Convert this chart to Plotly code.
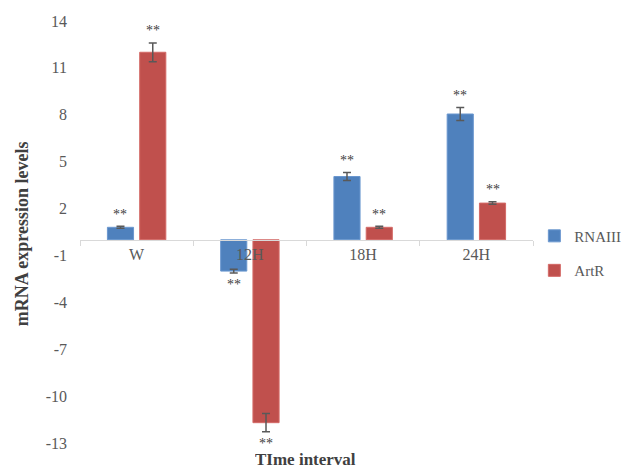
import plotly.graph_objects as go

categories = ["W", "12H", "18H", "24H"]
rnaiii = [0.8, -2.0, 4.05, 8.05]
rnaiii_err = [0.06, 0.12, 0.26, 0.42]
artr = [12.0, -11.7, 0.8, 2.35]
artr_err = [0.6, 0.58, 0.06, 0.08]
y_ticks = [14, 11, 8, 5, 2, -1, -4, -7, -10, -13]
y_min, y_max = -13, 14

blue = "#4F81BD"
red = "#C0504D"
grey = "#595959"
font_family = "Liberation Serif"

bargap = 0.43
bargroupgap = 0.19

fig = go.Figure()
fig.add_trace(go.Bar(
    name="RNAIII", x=categories, y=rnaiii, legendgroup="a",
    marker=dict(color=blue, line=dict(color="#6A97CF", width=1)),
    error_y=dict(type="data", array=rnaiii_err, color=grey, thickness=1.5, width=4),
))
fig.add_trace(go.Bar(
    name="ArtR", x=categories, y=artr, legendgroup="b",
    marker=dict(color=red, line=dict(color="#D46A67", width=1)),
    error_y=dict(type="data", array=artr_err, color=grey, thickness=1.5, width=4),
))

# significance markers
slot = (1 - bargap) / 2
offsets = [-slot / 2, slot / 2]
annotations = []
for series, errs, off in [(rnaiii, rnaiii_err, offsets[0]), (artr, artr_err, offsets[1])]:
    for i, (v, e) in enumerate(zip(series, errs)):
        sgn = 1 if v >= 0 else -1
        annotations.append(dict(
            x=i + off, y=v + sgn * e, xref="x", yref="y",
            text="**", showarrow=False, yshift=sgn * 12, borderpad=0,
            height=11,
            font=dict(family=font_family, size=14, color="#404040"),
        ))

annotations.append(dict(
    x=0.497, y=-0.039, xref="paper", yref="paper", text="<b>TIme interval</b>",
    showarrow=False, yanchor="middle", borderpad=0, height=14,
    font=dict(family=font_family, size=17, color="#404040"),
))
annotations.append(dict(
    x=-0.128, y=0.495, xref="paper", yref="paper", text="<b>mRNA expression levels</b>",
    showarrow=False, textangle=-90, xanchor="center", yanchor="middle",
    font=dict(family=font_family, size=18, color="#404040"),
))

fig.update_layout(
    width=637, height=467,
    margin=dict(l=72, r=112, t=13, b=32, autoexpand=False),
    paper_bgcolor="white", plot_bgcolor="white",
    barmode="group", bargap=bargap, bargroupgap=bargroupgap,
    showlegend=True,
    legend=dict(x=1.003, y=0.45, xanchor="left", yanchor="middle",
                itemwidth=30,
                font=dict(family=font_family, size=15, color=grey),
                tracegroupgap=12, bgcolor="rgba(0,0,0,0)"),
    annotations=annotations,
    xaxis=dict(
        type="category", anchor="free",
        position=(0 - y_min) / (y_max - y_min),
        showline=True, linecolor="#D9D9D9", linewidth=1,
        ticks="outside", tickson="boundaries", ticklen=5, tickcolor="#D9D9D9",
        showgrid=False, zeroline=False,
        tickfont=dict(family=font_family, size=16, color=grey),
    ),
    yaxis=dict(
        range=[y_min, y_max], tickvals=y_ticks, ticktext=[str(t) for t in y_ticks],
        showgrid=False, zeroline=False, showline=False, ticks="",
        ticklabelstandoff=12,
        tickfont=dict(family=font_family, size=16, color=grey),
    ),
)

fig.write_html("out.html")
